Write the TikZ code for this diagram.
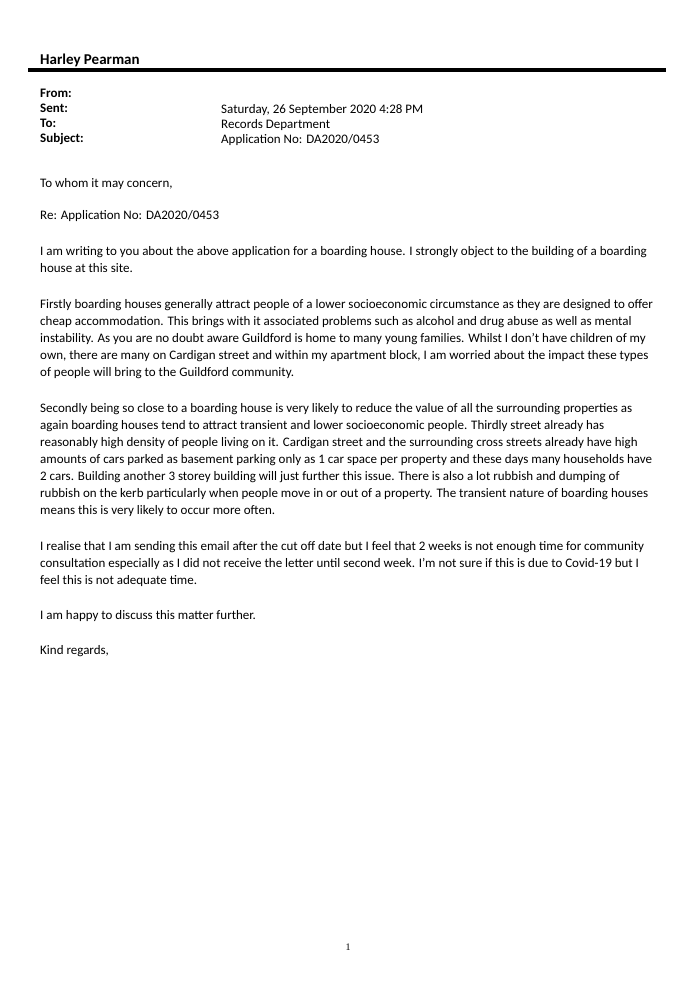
\documentclass[tikz,border=0pt]{standalone}
\usepackage{fontspec}
\setmainfont{Carlito}
\newfontfamily\pagenofont{Liberation Serif}
\usetikzlibrary{positioning}

\tikzset{
  letterpara/.style={anchor=north west, inner sep=0pt, align=left,
    font=\fontsize{13}{17}\selectfont},
  headfield/.style={anchor=north west, inner sep=0pt,
    font=\fontsize{13}{15}\selectfont}
}

\begin{document}
\begin{tikzpicture}[x=1pt,y=-1pt]
\useasboundingbox (0,0) rectangle (694,990);

% header
\node[anchor=west, inner sep=0pt, font=\fontsize{15}{17}\selectfont\bfseries] (sender) at (40,60) {Harley Pearman};
\draw[line width=3pt] (28,70) -- (666,70);

\node[headfield, font=\fontsize{13}{15}\selectfont\bfseries, align=left] (labels) at (40,89)
  {From:\\ Sent:\\ To:\\ Subject:};
\node[headfield, align=left] (values) at (221,104)
  {Saturday, 26 September 2020 4:28 PM\\ Records Department\\ Application No: DA2020/0453};

% body
\node[letterpara] (greet) at (40,178) {To whom it may concern,};
\node[letterpara] (re) at (40,210) {Re: Application No: DA2020/0453};
\node[letterpara] (paraA) at (40,246)
  {I am writing to you about the above application for a boarding house. I strongly object to the building of a boarding\\
   house at this site.};
\node[letterpara] (paraB) at (40,299)
  {Firstly boarding houses generally attract people of a lower socioeconomic circumstance as they are designed to offer\\
   cheap accommodation. This brings with it associated problems such as alcohol and drug abuse as well as mental\\
   instability. As you are no doubt aware Guildford is home to many young families. Whilst I don't have children of my\\
   own, there are many on Cardigan street and within my apartment block, I am worried about the impact these types\\
   of people will bring to the Guildford community.};
\node[letterpara] (paraC) at (40,403)
  {Secondly being so close to a boarding house is very likely to reduce the value of all the surrounding properties as\\
   again boarding houses tend to attract transient and lower socioeconomic people. Thirdly street already has\\
   reasonably high density of people living on it. Cardigan street and the surrounding cross streets already have high\\
   amounts of cars parked as basement parking only as 1 car space per property and these days many households have\\
   2 cars. Building another 3 storey building will just further this issue. There is also a lot rubbish and dumping of\\
   rubbish on the kerb particularly when people move in or out of a property. The transient nature of boarding houses\\
   means this is very likely to occur more often.};
\node[letterpara] (paraD) at (40,541)
  {I realise that I am sending this email after the cut off date but I feel that 2 weeks is not enough time for community\\
   consultation especially as I did not receive the letter until second week. I'm not sure if this is due to Covid-19 but I\\
   feel this is not adequate time.};
\node[letterpara] (paraE) at (40,610) {I am happy to discuss this matter further.};
\node[letterpara] (closing) at (40,645) {Kind regards,};

% page number
\node[inner sep=0pt, font=\fontsize{10}{12}\selectfont\pagenofont] (pageno) at (348,947) {1};
\end{tikzpicture}
\end{document}
